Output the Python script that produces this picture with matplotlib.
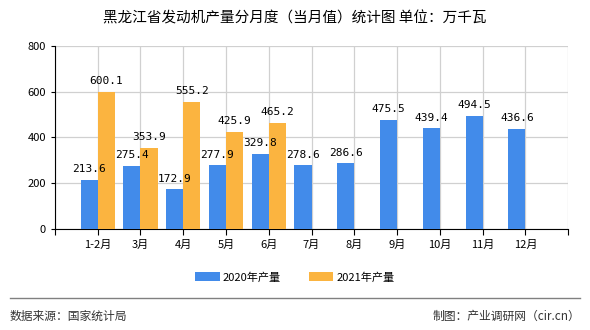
import matplotlib.pyplot as plt
import numpy as np
from matplotlib.lines import Line2D

plt.rcParams['font.family'] = ['Noto Sans CJK SC', 'DejaVu Sans']

months = ['1-2月', '3月', '4月', '5月', '6月', '7月', '8月', '9月', '10月', '11月', '12月']
output_2020 = [213.6, 275.4, 172.9, 277.9, 329.8, 278.6, 286.6, 475.5, 439.4, 494.5, 436.6]
output_2021 = [600.1, 353.9, 555.2, 425.9, 465.2]

blue = '#428BEA'
orange = '#FBB440'

fig = plt.figure(figsize=(5.9, 3.3), dpi=100)
ax = fig.add_axes([0.093, 0.306, 0.870, 0.555])

x = np.arange(len(months))
w = 0.4
ax.bar(x, output_2020, width=-w, align='edge', color=blue, label='2020年产量', zorder=3)
ax.bar(x[:len(output_2021)], output_2021, width=w, align='edge', color=orange,
       label='2021年产量', zorder=3)

for i, v in enumerate(output_2020):
    ax.text(i - w / 2, v + 25, f'{v:.1f}', ha='center', va='bottom',
            fontsize=8, family='DejaVu Sans Mono', zorder=4)
for i, v in enumerate(output_2021):
    ax.text(i + w / 2, v + 25, f'{v:.1f}', ha='center', va='bottom',
            fontsize=8, family='DejaVu Sans Mono', zorder=4)

ax.set_xlim(-1, 11)
ax.set_ylim(0, 800)
ax.set_yticks([0, 200, 400, 600, 800])
ax.set_xticks(np.arange(-1, 12))
ax.set_xticklabels([''] + months + [''])
ax.tick_params(axis='both', labelsize=8, length=3, color='black')
ax.tick_params(axis='x', length=4)
ax.grid(True, color='#d0d0d0', linewidth=0.9, zorder=0)
for s in ['top', 'right']:
    ax.spines[s].set_visible(False)
ax.spines['left'].set_color('black')
ax.spines['bottom'].set_color('black')

fig.legend(loc='center', bbox_to_anchor=(0.5, 0.16), ncol=2, frameon=False,
           fontsize=8, handlelength=2.2, handleheight=0.8, columnspacing=2.5,
           handletextpad=0.3)

fig.text(0.5, 0.945, '黑龙江省发动机产量分月度（当月值）统计图 单位：万千瓦',
         ha='center', va='center', fontsize=10.5)
fig.add_artist(Line2D([0.017, 0.983], [0.098, 0.098], color='#808080', linewidth=1))
fig.text(0.017, 0.042, '数据来源：国家统计局', ha='left', va='center', fontsize=8.5, color='#333333')
fig.text(0.983, 0.042, '制图：产业调研网（cir.cn）', ha='right', va='center', fontsize=8.5, color='#333333')

fig.savefig('out.png', dpi=100)
